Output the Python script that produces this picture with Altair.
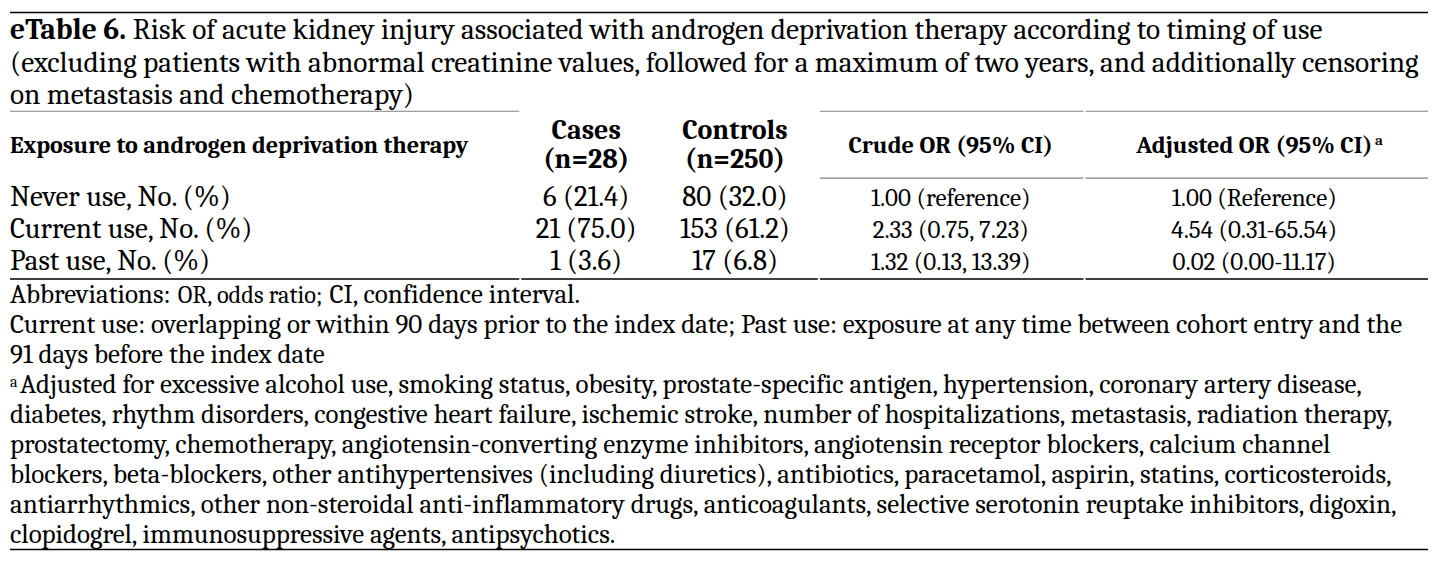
import altair as alt
import pandas as pd

# ---------------- content ----------------
title_bold = "eTable 6."
title_lines = [
    "Risk of acute kidney injury associated with androgen deprivation therapy according to timing of use",
    "(excluding patients with abnormal creatinine values, followed for a maximum of two years, and additionally censoring",
    "on metastasis and chemotherapy)",
]
header_left = "Exposure to androgen deprivation therapy"
header_cases = ["Cases", "(n=28)"]
header_controls = ["Controls", "(n=250)"]
header_crude = "Crude OR (95% CI)"
header_adjusted = "Adjusted OR (95% CI)"
header_adjusted_sup = "a"

categories = ["Never use, No. (%)", "Current use, No. (%)", "Past use, No. (%)"]
cases = ["6 (21.4)", "21 (75.0)", "1 (3.6)"]
controls = ["80 (32.0)", "153 (61.2)", "17 (6.8)"]
crude_or = ["1.00 (reference)", "2.33 (0.75, 7.23)", "1.32 (0.13, 13.39)"]
adjusted_or = ["1.00 (Reference)", "4.54 (0.31-65.54)", "0.02 (0.00-11.17)"]

abbrev_parts = ["Abbreviations:", "OR, odds ratio;", "CI, confidence interval."]
use_notes = [
    "Current use: overlapping or within 90 days prior to the index date; Past use: exposure at any time between cohort entry and the",
    "91 days before the index date",
]
adjust_sup = "a"
adjust_notes = [
    "Adjusted for excessive alcohol use, smoking status, obesity, prostate-specific antigen, hypertension, coronary artery disease,",
    "diabetes, rhythm disorders, congestive heart failure, ischemic stroke, number of hospitalizations, metastasis, radiation therapy,",
    "prostatectomy, chemotherapy, angiotensin-converting enzyme inhibitors, angiotensin receptor blockers, calcium channel",
    "blockers, beta-blockers, other antihypertensives (including diuretics), antibiotics, paracetamol, aspirin, statins, corticosteroids,",
    "antiarrhythmics, other non-steroidal anti-inflammatory drugs, anticoagulants, selective serotonin reuptake inhibitors, digoxin,",
    "clopidogrel, immunosuppressive agents, antipsychotics.",
]

# ---------------- layout (pixel coordinates of the page) ----------------
W, H = 1420, 544
FONT = "Caladea, Cambria, Liberation Serif, serif"
xs = alt.Scale(domain=[8, 8 + W], range=[0, W], nice=False, zero=False)
ys = alt.Scale(domain=[8, 8 + H], range=[0, H], nice=False, zero=False)

LEFT = 10
X_CASES, X_CONTROLS, X_CRUDE, X_ADJ = 587, 736, 952, 1256
ROW_Y = [206, 238, 270]
NOTE_Y0, NOTE_DY = 303, 30


def text_layer(labels, xs_, ys_, size, weight="normal", align="left", color="#000"):
    df = pd.DataFrame({"label": labels, "x": xs_, "y": ys_})
    return alt.Chart(df).mark_text(
        font=FONT, fontSize=size, fontWeight=weight, align=align,
        baseline="alphabetic", color=color,
    ).encode(
        x=alt.X("x:Q", scale=xs, axis=None),
        y=alt.Y("y:Q", scale=ys, axis=None),
        text="label:N",
    )


def rule_layer(x1, x2, y, color, width):
    df = pd.DataFrame({"x": x1, "x2": x2, "y": [y] * len(x1)})
    return alt.Chart(df).mark_rule(color=color, strokeWidth=width).encode(
        x=alt.X("x:Q", scale=xs, axis=None),
        x2="x2:Q",
        y=alt.Y("y:Q", scale=ys, axis=None),
    )


layers = []
# rules
layers.append(rule_layer([10], [1430], 12, "#000", 1.5))
layers.append(rule_layer([10, 821, 1087], [520, 1085, 1430], 111, "#808080", 1.2))
layers.append(rule_layer([821, 1087], [1085, 1430], 178, "#808080", 1.2))
layers.append(rule_layer([10, 522, 821, 1087], [520, 819, 1085, 1430], 279, "#000", 1.5))
layers.append(rule_layer([10], [1430], 550, "#000", 1.5))

# title
layers.append(text_layer([title_bold], [LEFT], [39], 29.6, "bold"))
layers.append(text_layer([title_lines[0]], [133], [39], 29.35))
layers.append(text_layer(title_lines[1:], [LEFT, LEFT], [72, 104], 29.35))

# header
layers.append(text_layer([header_left], [LEFT], [153], 24.2, "bold"))
layers.append(text_layer([header_cases[0], header_controls[0]], [X_CASES, X_CONTROLS], [139, 139], 28, "bold", "center"))
layers.append(text_layer([header_cases[1], header_controls[1]], [X_CASES, X_CONTROLS], [168, 168], 28, "bold", "center"))
layers.append(text_layer([header_crude, header_adjusted], [X_CRUDE, X_ADJ], [153, 153], 24.4, "bold", "center"))
layers.append(text_layer([header_adjusted_sup], [1377], [145], 15, "bold"))

# body
layers.append(text_layer(categories, [LEFT] * 3, ROW_Y, 29))
layers.append(text_layer(cases, [X_CASES] * 3, ROW_Y, 29, align="center"))
layers.append(text_layer(controls, [X_CONTROLS] * 3, ROW_Y, 29, align="center"))
layers.append(text_layer(crude_or, [X_CRUDE] * 3, ROW_Y, 25, align="center"))
layers.append(text_layer(adjusted_or, [X_ADJ] * 3, ROW_Y, 25, align="center"))

# footnotes
layers.append(text_layer([abbrev_parts[0]], [LEFT], [NOTE_Y0], 27))
layers.append(text_layer([abbrev_parts[1]], [178], [NOTE_Y0], 24.4))
layers.append(text_layer([abbrev_parts[2]], [330], [NOTE_Y0], 27))
layers.append(text_layer(use_notes, [LEFT] * 2, [NOTE_Y0 + NOTE_DY, NOTE_Y0 + 2 * NOTE_DY], 27))
layers.append(text_layer([adjust_sup], [LEFT], [NOTE_Y0 + 3 * NOTE_DY - 6], 16))
layers.append(text_layer(
    adjust_notes,
    [20] + [LEFT] * 5,
    [NOTE_Y0 + (3 + i) * NOTE_DY for i in range(len(adjust_notes))],
    27,
))

chart = alt.layer(*layers).properties(
    width=W, height=H, padding=0, background="white",
).configure_view(stroke=None)

chart.save("out.html", embed_options={"renderer": "svg", "actions": False})
